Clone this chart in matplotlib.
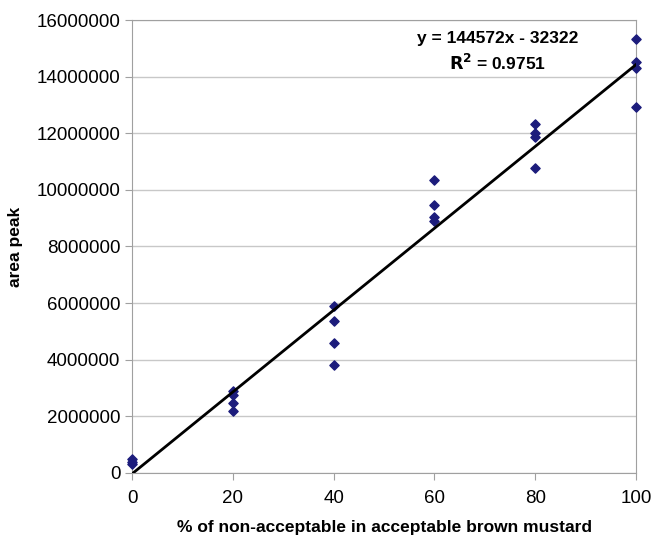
import matplotlib.pyplot as plt
import numpy as np
from matplotlib.ticker import FuncFormatter

plt.rcParams['font.family'] = ['Liberation Sans', 'DejaVu Sans']

pct = [0, 0, 0,
       20, 20, 20, 20,
       40, 40, 40, 40,
       60, 60, 60, 60,
       80, 80, 80, 80,
       100, 100, 100, 100]
area = [300000, 400000, 500000,
        2900000, 2750000, 2450000, 2200000,
        5900000, 5350000, 4600000, 3800000,
        10350000, 9480000, 9030000, 8900000,
        12330000, 12020000, 11850000, 10780000,
        15320000, 14530000, 14300000, 12940000]

slope = 144572
intercept = -32322
r2 = 0.9751

fig = plt.figure(figsize=(6.51, 5.41), dpi=100)
ax = fig.add_axes([0.203, 0.126, 0.774, 0.837])

ax.scatter(pct, area, marker='D', s=22, color='#1c1c7c', zorder=3, clip_on=False)
xs = np.array([0, 100])
ax.plot(xs, slope * xs + intercept, color='black', lw=2, zorder=4)

ax.set_xlim(0, 100)
ax.set_ylim(0, 16000000)
ax.set_xticks([0, 20, 40, 60, 80, 100])
ax.set_yticks(np.arange(0, 16000001, 2000000))
ax.yaxis.set_major_formatter(FuncFormatter(lambda v, p: '%d' % v))
ax.yaxis.grid(True, color='#c8c8c8', lw=1)
ax.set_axisbelow(True)
for s in ax.spines.values():
    s.set_color('#a0a0a0')
ax.tick_params(colors='#a0a0a0', labelcolor='black', labelsize=13.5, length=5)
ax.tick_params(axis='x', pad=7)

ax.set_xlabel('% of non-acceptable in acceptable brown mustard',
              fontsize=12.5, fontweight='bold', labelpad=10)
ax.set_ylabel('area peak', fontsize=12.5, fontweight='bold', labelpad=10)

ax.text(0.725, 0.96, 'y = 144572x - 32322', transform=ax.transAxes,
        ha='center', va='center', fontsize=12.5, fontweight='bold')
ax.text(0.725, 0.905, '$\\mathbf{R^2}$ = %.4f' % r2, transform=ax.transAxes,
        ha='center', va='center', fontsize=12.5, fontweight='bold')

fig.savefig('out.png', dpi=100)
